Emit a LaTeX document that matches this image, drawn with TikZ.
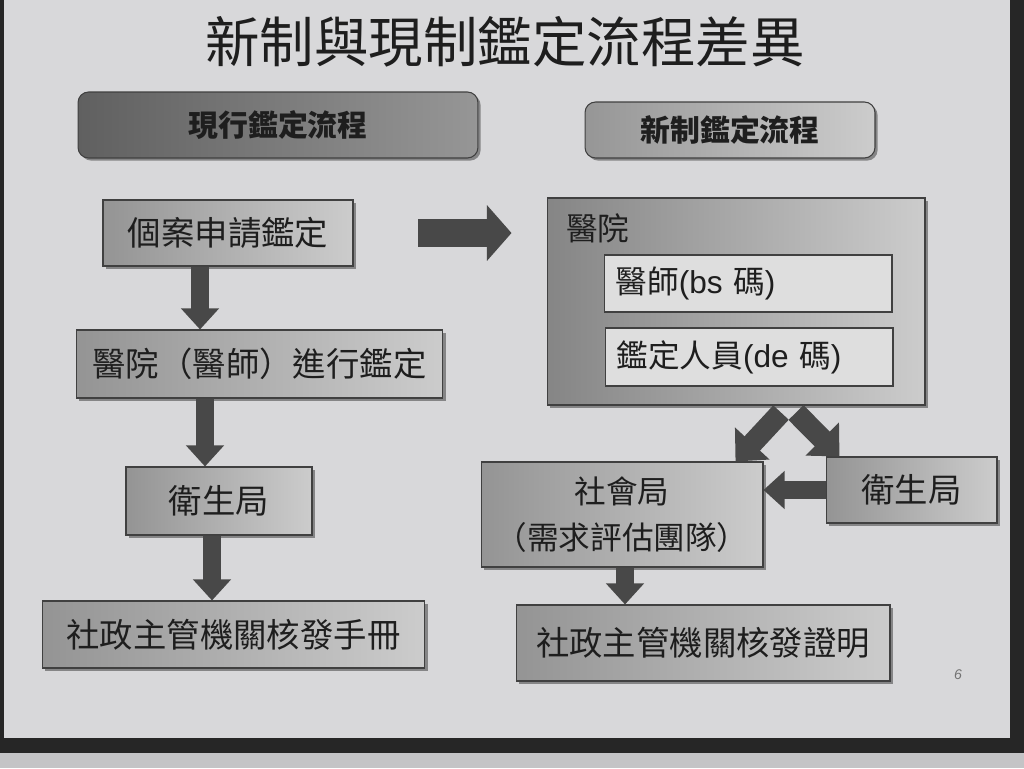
\documentclass[tikz,border=0pt]{standalone}
\usepackage{fontspec}
\setmainfont{Liberation Sans}
\newfontfamily\cjk{Noto Sans CJK TC}
\usetikzlibrary{arrows.meta,shadows}
\definecolor{slide_gray}{RGB}{216,216,218}
\definecolor{frame_dark}{RGB}{38,38,38}
\definecolor{strip_gray}{RGB}{196,196,198}
\definecolor{box_dark}{RGB}{148,148,148}
\definecolor{box_light}{RGB}{204,204,204}
\definecolor{hdr_dark}{RGB}{96,96,96}
\definecolor{hdr_light}{RGB}{150,150,150}
\definecolor{inner_gray}{RGB}{222,222,222}
\definecolor{arrow_gray}{RGB}{72,72,72}
\definecolor{text_dark}{RGB}{30,30,30}

\tikzset{
	box/.style={rectangle,draw=black!75,line width=0.6pt,inner sep=0pt,
		left color=box_dark,right color=box_light,text=text_dark,
		font=\cjk\fontsize{19}{23}\selectfont,
		drop shadow={shadow xshift=1.5pt,shadow yshift=-1.5pt,fill=black!80}},
	hdrbox/.style={box,rounded corners=6pt,left color=hdr_dark,right color=hdr_light,
		font=\cjk\bfseries\fontsize{17}{20}\selectfont},
	inbox/.style={rectangle,draw=black!75,line width=0.6pt,fill=inner_gray,inner sep=0pt,
		text width=5.3cm,inner xsep=0.23cm,align=left,text=text_dark,
		font=\cjk\fontsize{18}{22}\selectfont},
	fat/.style={draw=arrow_gray,line width=10pt,-{Triangle[length=12pt,width=21pt]}},
	fatter/.style={draw=arrow_gray,line width=12pt,-{Triangle[length=14pt,width=26pt]}}
}

\begin{document}
\begin{tikzpicture}[x=0.02cm,y=-0.02cm]
	\useasboundingbox (0,0) rectangle (1024,768);
	% slide and frame
	\fill[frame_dark] (0,0) rectangle (1024,768);
	\fill[slide_gray] (4,0) rectangle (1010,738);
	\fill[strip_gray] (0,753) rectangle (1024,768);

	\node[font=\cjk\fontsize{31}{36}\selectfont,text=text_dark] (title) at (505,42) {新制與現制鑑定流程差異};

	\node[hdrbox,minimum width=8cm,minimum height=1.32cm] (hdrL) at (278,125) {現行鑑定流程};
	\node[hdrbox,left color=hdr_light,right color=box_light,minimum width=5.8cm,minimum height=1.12cm] (hdrR) at (730,130) {新制鑑定流程};

	% current process
	\node[box,minimum width=5cm,minimum height=1.32cm] (a1) at (228,233) {個案申請鑑定};
	\node[box,minimum width=7.34cm,minimum height=1.36cm] (a2) at (259.5,364) {醫院（醫師）進行鑑定};
	\node[box,minimum width=3.72cm,minimum height=1.36cm] (a3) at (219,501) {衛生局};
	\node[box,minimum width=7.66cm,minimum height=1.34cm] (a4) at (233.5,634.5) {社政主管機關核發手冊};

	\foreach \p/\q/\s/\t in {a1/a2/-0.56/-1.19,a2/a3/-1.09/-0.28,a3/a4/-0.14/-0.43}
		\draw[fat] ([xshift=\s cm]\p.south) -- ([xshift=\t cm]\q.north);

	% new process
	\node[box,left color=box_dark!90!black,minimum width=7.56cm,minimum height=4.14cm] (hosp) at (736,301.5) {};
	\node[font=\cjk\fontsize{18}{22}\selectfont,text=text_dark,anchor=west] (hospname) at (560,228) {醫院};
	\node[inbox,minimum height=1.14cm] (b1) at (748,283.5) {醫師{\rmfamily(bs }碼{\rmfamily)}};
	\node[inbox,minimum height=1.16cm] (b2) at (749,357) {鑑定人員{\rmfamily(de }碼{\rmfamily)}};

	\node[box,minimum width=5.64cm,minimum height=2.1cm,align=center,font=\cjk\fontsize{18}{26}\selectfont] (soc) at (622,514.5) {社會局\\（需求評估團隊）};
	\node[box,minimum width=3.42cm,minimum height=1.32cm] (hb) at (911.5,490) {衛生局};
	\node[box,minimum width=7.48cm,minimum height=1.52cm] (cert) at (703,643) {社政主管機關核發證明};

	\path (hosp.west |- a1.east) coordinate (hw);
	\path (soc.east |- hb.west) coordinate (se);
	\draw[draw=arrow_gray,line width=16pt,-{Triangle[length=14pt,width=31pt]}] ([xshift=1.3cm]a1.east) -- ([xshift=-0.7cm]hw);
	\draw[fatter] ([xshift=0.9cm,yshift=-4pt]hosp.south) -- ([xshift=-0.56cm]soc.north east);
	\draw[fatter] ([xshift=1.2cm,yshift=-4pt]hosp.south) -- ([xshift=0.28cm]hb.north west);
	\draw[fat] (hb.west) -- (se);
	\draw[fat] ([xshift=0.06cm]soc.south) -- ([xshift=-1.56cm]cert.north);

	\node[font=\itshape\footnotesize,text=black!55] (pagenum) at (958,675) {6};
\end{tikzpicture}
\end{document}
